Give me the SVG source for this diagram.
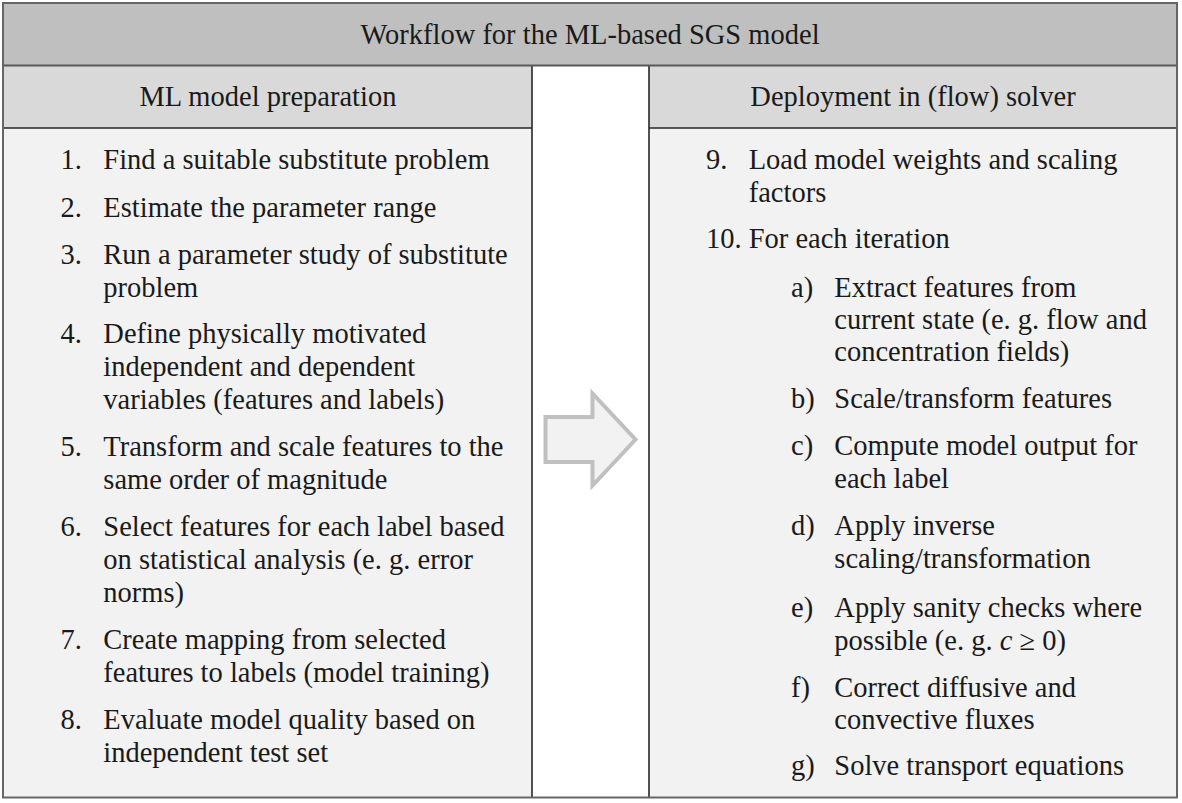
<svg xmlns="http://www.w3.org/2000/svg" width="1182" height="803" viewBox="0 0 1182 803">
<style>
text{font-family:'Liberation Serif',Tinos,'Times New Roman','DejaVu Serif',serif;font-size:28.5px;fill:#1a1a1a}
.c{text-anchor:middle}
.line{stroke:#262626;stroke-width:1.6;fill:none}
</style>
<rect x="0" y="0" width="1182" height="803" fill="#ffffff"/>
<g id="title">
<rect x="3" y="3" width="1174" height="62.5" fill="#bfbfbf"/>
<text class="c" x="590" y="44" font-family="Liberation Serif, serif">Workflow for the ML-based SGS model</text>
</g>
<g id="left-column" font-family="Liberation Serif, serif">
<rect x="3" y="65.5" width="529" height="62.5" fill="#d9d9d9"/>
<rect x="3" y="128" width="529" height="669" fill="#f2f2f2"/>
<line class="line" x1="3" y1="128" x2="532" y2="128"/>
<text class="c" x="268" y="106">ML model preparation</text>
<text x="60.5" y="169.3">1.</text><text x="103.3" y="169.3">Find a suitable substitute problem</text>
<text x="60.5" y="217.3">2.</text><text x="103.3" y="217.3">Estimate the parameter range</text>
<text x="60.5" y="264">3.</text><text x="103.3" y="264">Run a parameter study of substitute</text>
<text x="103.3" y="296.7">problem</text>
<text x="60.5" y="343.3">4.</text><text x="103.3" y="343.3">Define physically motivated</text>
<text x="103.3" y="376.2">independent and dependent</text>
<text x="103.3" y="408.6">variables (features and labels)</text>
<text x="60.5" y="455.5">5.</text><text x="103.3" y="455.5">Transform and scale features to the</text>
<text x="103.3" y="488.6">same order of magnitude</text>
<text x="60.5" y="536">6.</text><text x="103.3" y="536">Select features for each label based</text>
<text x="103.3" y="568.6">on statistical analysis (e. g. error</text>
<text x="103.3" y="601.5">norms)</text>
<text x="60.5" y="649">7.</text><text x="103.3" y="649">Create mapping from selected</text>
<text x="103.3" y="681.7">features to labels (model training)</text>
<text x="60.5" y="728.5">8.</text><text x="103.3" y="728.5">Evaluate model quality based on</text>
<text x="103.3" y="761.5">independent test set</text>
</g>
<g id="right-column" font-family="Liberation Serif, serif">
<rect x="649" y="65.5" width="528" height="62.5" fill="#d9d9d9"/>
<rect x="649" y="128" width="528" height="669" fill="#f2f2f2"/>
<line class="line" x1="649" y1="128" x2="1177" y2="128"/>
<text class="c" x="913" y="106">Deployment in (flow) solver</text>
<text x="706" y="169.3">9.</text><text x="748.7" y="169.3">Load model weights and scaling</text>
<text x="748.7" y="201.7">factors</text>
<text x="706" y="248.3">10.</text><text x="748.7" y="248.3">For each iteration</text>
<text x="791" y="296.7">a)</text><text x="834.3" y="296.7">Extract features from</text>
<text x="834.3" y="329">current state (e. g. flow and</text>
<text x="834.3" y="361.3">concentration fields)</text>
<text x="791" y="408.3">b)</text><text x="834.3" y="408.3">Scale/transform features</text>
<text x="791" y="455.3">c)</text><text x="834.3" y="455.3">Compute model output for</text>
<text x="834.3" y="488.3">each label</text>
<text x="791" y="535.3">d)</text><text x="834.3" y="535.3">Apply inverse</text>
<text x="834.3" y="568.3">scaling/transformation</text>
<text x="791" y="616.7">e)</text><text x="834.3" y="616.7">Apply sanity checks where</text>
<text x="834.3" y="649.5">possible (e. g. <tspan font-style="italic">c</tspan> ≥ 0)</text>
<text x="791" y="696.7">f)</text><text x="834.3" y="696.7">Correct diffusive and</text>
<text x="834.3" y="728.5">convective fluxes</text>
<text x="791" y="775">g)</text><text x="834.3" y="775">Solve transport equations</text>
</g>
<g id="frame">
<line class="line" x1="532" y1="65.5" x2="532" y2="797"/>
<line class="line" x1="649" y1="65.5" x2="649" y2="797"/>
<line x1="3" y1="65.5" x2="1177" y2="65.5" stroke="#595959" stroke-width="2"/>
<rect x="3" y="3" width="1174" height="794.5" fill="none" stroke="#666666" stroke-width="2"/>
</g>
<g id="connectors">
<path d="M545.5,417 L592.5,417 L592.5,393.5 L635.5,439.5 L592.5,485.5 L592.5,462 L545.5,462 Z" fill="#f2f2f2" stroke="#c0c0c0" stroke-width="4" stroke-linejoin="miter"/>
</g>
</svg>
